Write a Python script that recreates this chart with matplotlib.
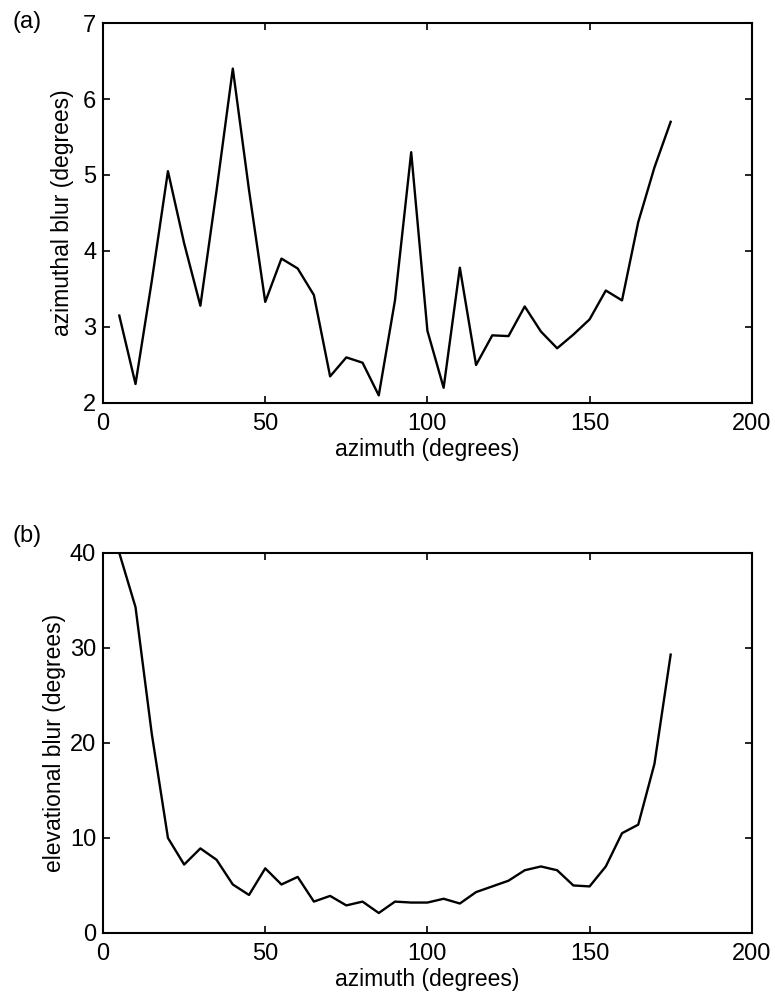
import matplotlib
matplotlib.use("Agg")
import matplotlib.pyplot as plt

# azimuth positions (degrees)
azimuth = [5, 10, 15, 20, 25, 30, 35, 40, 45, 50, 55, 60, 65, 70, 75, 80, 85, 90,
           95, 100, 105, 110, 115, 120, 125, 130, 135, 140, 145, 150, 155, 160,
           165, 170, 175]

# (a) azimuthal blur
az_blur = [3.15, 2.25, 3.6, 5.05, 4.1, 3.28, 4.8, 6.4, 4.8, 3.33, 3.9, 3.77,
           3.42, 2.35, 2.6, 2.53, 2.1, 3.35, 5.3, 2.95, 2.2, 3.78, 2.5, 2.89,
           2.88, 3.27, 2.94, 2.72, 2.9, 3.1, 3.48, 3.35, 4.38, 5.1, 5.7]

# (b) elevational blur
el_blur = [40.0, 34.3, 21.0, 10.0, 7.2, 8.9, 7.7, 5.1, 4.0, 6.8, 5.1, 5.9,
           3.3, 3.9, 2.9, 3.3, 2.1, 3.3, 3.2, 3.2, 3.6, 3.1, 4.3, 4.9,
           5.5, 6.6, 7.0, 6.6, 5.0, 4.9, 7.0, 10.5, 11.4, 17.8, 29.3]

plt.rcParams['font.family'] = ['Liberation Sans', 'DejaVu Sans']

fig = plt.figure(figsize=(7.75, 9.96), dpi=100)
ax1 = fig.add_axes([0.133, 0.5954, 0.837, 0.3815])
ax2 = fig.add_axes([0.133, 0.0633, 0.837, 0.3815])


def style(ax):
    ax.tick_params(axis='both', direction='in', top=True, right=True, length=5,
                   width=1.2, labelsize=17)
    ax.tick_params(axis='x', pad=7)
    ax.tick_params(axis='y', pad=5)
    for s in ax.spines.values():
        s.set_linewidth(1.5)
    ax.set_xlim(0, 200)
    ax.set_xticks([0, 50, 100, 150, 200])
    ax.set_xlabel('azimuth (degrees)', fontsize=16.5, labelpad=2.5)


ax1.plot(azimuth, az_blur, color='black', lw=1.7)
ax1.set_ylim(2, 7)
ax1.set_yticks([2, 3, 4, 5, 6, 7])
ax1.set_ylabel('azimuthal blur (degrees)', fontsize=16.5)
style(ax1)
ax1.yaxis.set_label_coords(-0.045, 0.5)

ax2.plot(azimuth, el_blur, color='black', lw=1.7)
ax2.set_ylim(0, 40)
ax2.set_yticks([0, 10, 20, 30, 40])
ax2.set_ylabel('elevational blur (degrees)', fontsize=16.5)
style(ax2)
ax2.yaxis.set_label_coords(-0.057, 0.5)

fig.text(0.016, 0.978, '(a)', fontsize=17, va='center')
fig.text(0.016, 0.462, '(b)', fontsize=17, va='center')

fig.savefig('out.png', dpi=100)
